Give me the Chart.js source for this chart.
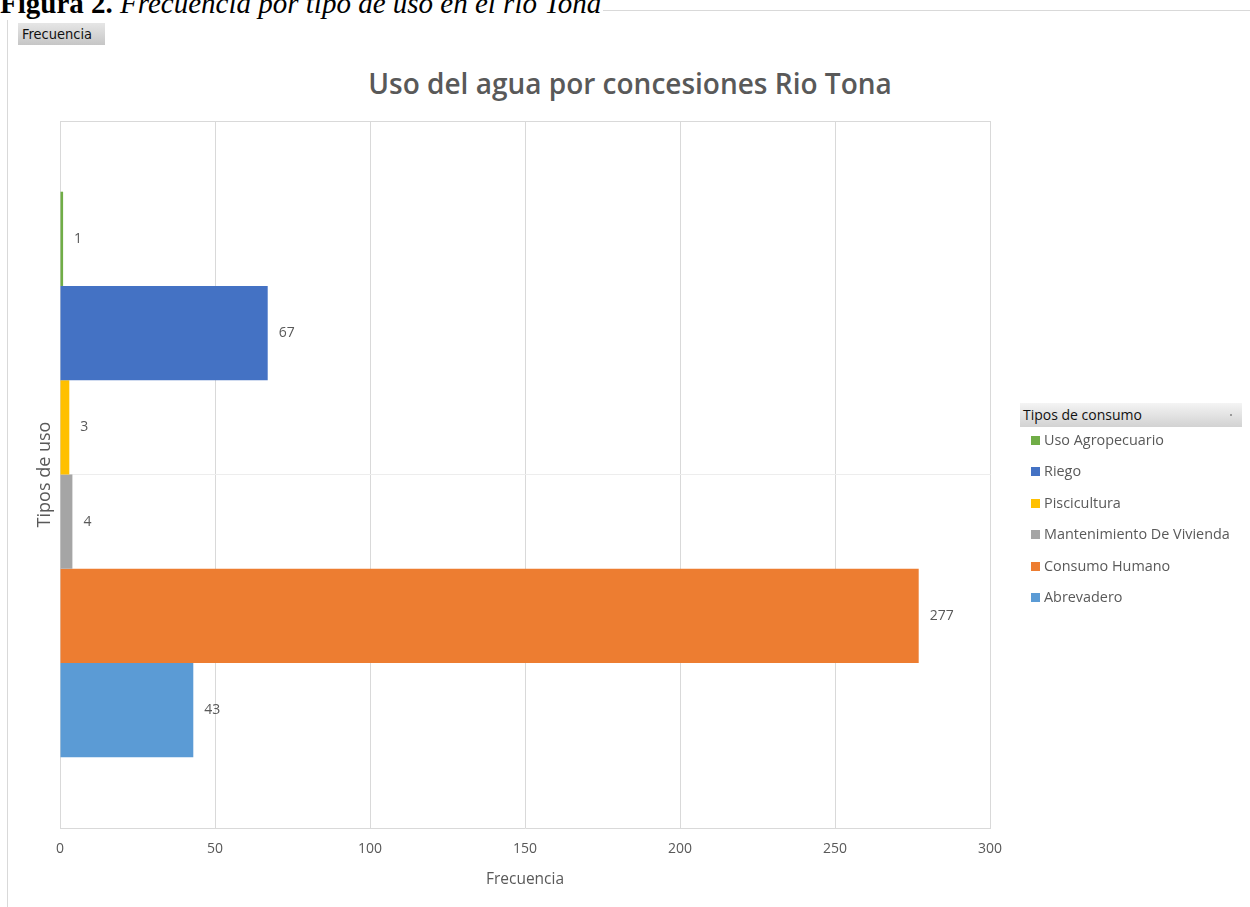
<!DOCTYPE html>
<html lang="es">
<head>
<meta charset="utf-8">
<title>Uso del agua por concesiones Rio Tona</title>
<script src="https://cdn.jsdelivr.net/npm/chart.js@4.4.1/dist/chart.umd.min.js"></script>
<style>
  html, body { margin: 0; padding: 0; background: #fff; }
  body { position: relative; width: 1250px; height: 907px; overflow: hidden; font-family: "Open Sans", sans-serif; }
  #frame { position: absolute; left: 7px; top: 10px; width: 1300px; height: 1000px; border-left: 1px solid #d9d9d9; border-top: 1px solid #d9d9d9; }
  #caption { position: absolute; left: 0; top: -14px; font-family: "Liberation Serif", serif; font-size: 29px; line-height: 34px; white-space: nowrap; color: #000; background: #fff; padding-right: 2px; z-index: 2; }
  #pivotField { position: absolute; left: 18px; top: 23px; width: 87px; height: 22px; background: linear-gradient(#e6e6e6, #c6c6c6); font-family: "DejaVu Sans Condensed", "DejaVu Sans", sans-serif; font-size: 14.5px; line-height: 22px; color: #111; padding-left: 4px; box-sizing: border-box; }
  #chartTitle { position: absolute; left: 0; top: 63px; width: 1260px; text-align: center; font-size: 28px; font-weight: 600; line-height: 40px; color: #595959; }
  #plot { position: absolute; left: 0; top: 0; }
  #legendHead { position: absolute; left: 1020px; top: 403px; width: 222px; height: 24px; background: linear-gradient(#f4f4f4, #d2d2d2); font-size: 14px; line-height: 24px; color: #111; padding-left: 3px; box-sizing: border-box; }
  #legendHead .dot { position: absolute; right: 10px; top: 11px; width: 2px; height: 2px; background: #9a9a9a; }
  .legItem { position: absolute; left: 1031px; height: 20px; font-size: 14.4px; line-height: 20px; color: #595959; white-space: nowrap; }
  .legItem .sw { display: inline-block; width: 9px; height: 9px; margin-right: 4px; vertical-align: 0px; }
</style>
</head>
<body>
<div id="frame"></div>
<div id="caption"><b>Figura 2.</b> <i>Frecuencia por tipo de uso en el río Tona</i></div>
<div id="pivotField">Frecuencia</div>
<div id="chartTitle">Uso del agua por concesiones Rio Tona</div>
<canvas id="plot" width="1250" height="907"></canvas>
<div id="legendHead">Tipos de consumo<span class="dot"></span></div>
<div id="legendBox"></div>
<script>
// Category (single pivot row) and the six water-use series
const categories = ['Frecuencia'];
const seriesNames = ['Uso Agropecuario', 'Riego', 'Piscicultura', 'Mantenimiento De Vivienda', 'Consumo Humano', 'Abrevadero'];
const seriesValues = [1, 67, 3, 4, 277, 43];
const seriesColors = ['#70AD47', '#4472C4', '#FFC000', '#A5A5A5', '#ED7D31', '#5B9BD5'];
const xTickValues = [0, 50, 100, 150, 200, 250, 300];

const FONT = '"Open Sans", sans-serif';
const GREY_TEXT = '#595959';
const GRID = '#d9d9d9';

// Value labels printed just past the end of each bar
const barValueLabels = {
  id: 'barValueLabels',
  afterDatasetsDraw(chart) {
    const ctx = chart.ctx;
    ctx.save();
    ctx.font = '14px ' + FONT;
    ctx.fillStyle = GREY_TEXT;
    ctx.textAlign = 'left';
    ctx.textBaseline = 'middle';
    chart.data.datasets.forEach((ds, i) => {
      const meta = chart.getDatasetMeta(i);
      meta.data.forEach((bar, j) => {
        ctx.fillText(String(ds.data[j]), bar.x + 11, bar.y);
      });
    });
    ctx.restore();
  }
};

const datasets = seriesNames.map((name, i) => ({
  label: name,
  data: [seriesValues[i]],
  backgroundColor: seriesColors[i],
  borderWidth: 0,
  categoryPercentage: 0.8,
  barPercentage: 1.0
}));

new Chart(document.getElementById('plot'), {
  type: 'bar',
  data: { labels: categories, datasets },
  options: {
    indexAxis: 'y',
    responsive: false,
    devicePixelRatio: 1,
    animation: false,
    layout: { padding: { left: 30, right: 260, top: 121, bottom: 14 } },
    plugins: {
      legend: { display: false },
      title: { display: false },
      tooltip: { enabled: false }
    },
    scales: {
      x: {
        type: 'linear',
        min: xTickValues[0],
        max: xTickValues[xTickValues.length - 1],
        afterBuildTicks(scale) { scale.ticks = xTickValues.map(v => ({ value: v })); },
        ticks: { color: GREY_TEXT, font: { family: FONT, size: 14 }, padding: 13 },
        grid: { color: GRID, drawTicks: false },
        border: { color: GRID },
        title: { display: true, text: 'Frecuencia', color: GREY_TEXT, font: { family: FONT, size: 15.5 }, padding: { top: 4, bottom: 4 } },
        afterFit(scale) { scale.height = 65; }
      },
      // top edge of the plot frame
      xTop: {
        type: 'linear',
        position: 'top',
        axis: 'x',
        min: xTickValues[0],
        max: xTickValues[xTickValues.length - 1],
        ticks: { display: false },
        grid: { display: false, drawTicks: false },
        border: { display: true, color: GRID },
        afterFit(scale) { scale.height = 0; }
      },
      y: {
        type: 'category',
        ticks: { display: false },
        grid: { color: '#ededed', offset: false, drawTicks: false },
        border: { color: GRID },
        title: { display: true, text: 'Tipos de uso', color: GREY_TEXT, font: { family: FONT, size: 18 }, padding: { top: 4, bottom: 4 } },
        afterFit(scale) { scale.width = 30; }
      }
    }
  },
  plugins: [barValueLabels]
});

// Legend list built from the series names and colours
const legendBox = document.getElementById('legendBox');
seriesNames.forEach((name, i) => {
  const item = document.createElement('div');
  item.className = 'legItem';
  item.style.top = (430 + i * 31.4) + 'px';
  const sw = document.createElement('span');
  sw.className = 'sw';
  sw.style.background = seriesColors[i];
  item.appendChild(sw);
  item.appendChild(document.createTextNode(name));
  legendBox.appendChild(item);
});
</script>
</body>
</html>
